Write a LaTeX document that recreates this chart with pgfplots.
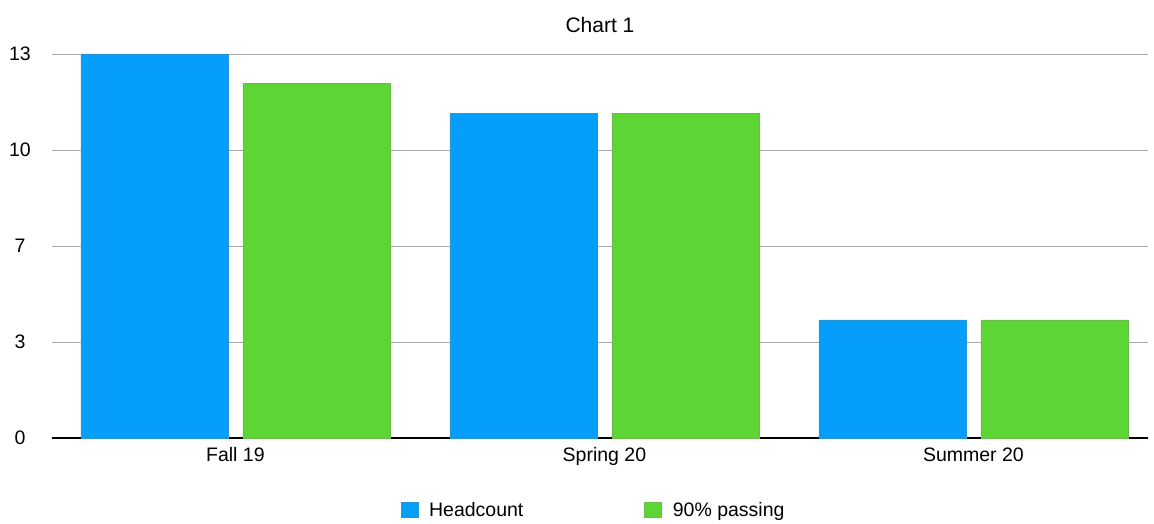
\documentclass[border=0pt]{standalone}
\usepackage{pgfplots}
\pgfplotsset{compat=1.18}
\usepackage{fontspec}
\setmainfont{Liberation Sans}
\definecolor{cblue}{RGB}{5,158,250}
\definecolor{cgreen}{RGB}{93,214,53}
\definecolor{cgrid}{RGB}{170,170,170}
\begin{document}
\begin{tikzpicture}[x=1pt,y=1pt]
\path[use as bounding box] (0,0) rectangle (1154,523);
\begin{axis}[
  at={(52pt,85pt)}, anchor=south west,
  scale only axis, width=1096pt, height=384pt,
  xmin=-0.497, xmax=2.473, ymin=0, ymax=13,
  xtick={0,1,2}, xticklabels={Fall 19,Spring 20,Summer 20},
  ytick={0,3.25,6.5,9.75,13}, yticklabels={0,3,7,10,13},
  ymajorgrids, grid style={cgrid, line width=0.8pt},
  axis x line*=bottom, axis y line*=left,
  x axis line style={black, line width=1.2pt, -},
  y axis line style={draw=none},
  major tick length=0pt,
  tick label style={font=\fontsize{19.5}{22}\selectfont},
  yticklabel style={anchor=center, xshift=-32pt},
  xticklabel style={yshift=-6pt},
  title={Chart 1}, title style={font=\fontsize{21}{24}\selectfont, yshift=12pt},
  ybar, bar width=147pt,
  legend style={at={(0.318,-0.1875)}, anchor=west, draw=none, legend columns=2,
    font=\fontsize{19.5}{22}\selectfont, inner xsep=0pt,
    /tikz/every even column/.append style={column sep=119pt}},
  legend image code/.code={\fill[#1] (0pt,-7pt) rectangle (17pt,8pt);},
]
\addplot[fill=cblue, draw=cblue!70!gray, bar shift=-81pt] coordinates {(0,13) (1,11) (2,4)};
\addplot[fill=cgreen, draw=cgreen!70!gray, bar shift=81pt] coordinates {(0,12) (1,11) (2,4)};
\legend{\hspace{9pt}Headcount, \hspace{9pt}90\% passing}
\end{axis}
\end{tikzpicture}
\end{document}
